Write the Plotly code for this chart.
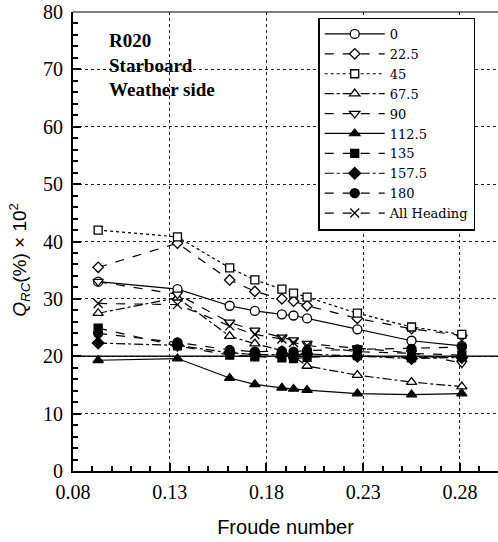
import plotly.graph_objects as go

froude = [0.093, 0.134, 0.161, 0.174, 0.188, 0.194, 0.201, 0.227, 0.255, 0.281]

headings = ["0", "22.5", "45", "67.5", "90", "112.5", "135", "157.5", "180", "All Heading"]

q_0 = [33.0, 31.7, 28.8, 27.9, 27.3, 27.1, 26.6, 24.7, 22.7, 21.8]
q_22 = [35.5, 39.7, 33.3, 31.3, 30.0, 29.6, 28.8, 26.6, 24.8, 23.6]
q_45 = [42.0, 40.8, 35.4, 33.3, 31.7, 31.0, 30.3, 27.5, 25.1, 23.8]
q_67 = [27.5, 30.2, 23.5, 22.2, 21.0, 20.0, 18.3, 16.7, 15.5, 14.7]
q_90 = [33.0, 30.8, 25.9, 24.5, 23.3, 22.8, 22.2, 21.4, 20.6, 18.8]
q_112 = [19.3, 19.6, 16.2, 15.1, 14.5, 14.3, 14.1, 13.5, 13.3, 13.5]
q_135 = [24.9, 21.8, 20.2, 19.9, 19.7, 19.6, 19.8, 20.1, 19.7, 20.0]
q_157 = [22.3, 21.9, 20.6, 20.3, 20.3, 20.2, 20.4, 20.0, 19.6, 19.8]
q_180 = [24.0, 22.4, 21.1, 20.8, 20.9, 20.8, 21.0, 21.2, 21.3, 21.6]
q_all = [29.2, 29.0, 25.3, 23.8, 23.0, 22.4, 21.9, 20.8, 20.5, 20.2]

x_ticks = [0.08, 0.13, 0.18, 0.23, 0.28]
y_ticks = [0, 10, 20, 30, 40, 50, 60, 70, 80]

label_text = "R020<br>Starboard<br>Weather side"

series = [q_0, q_22, q_45, q_67, q_90, q_112, q_135, q_157, q_180, q_all]
styles = [
    dict(symbol="circle", fill="white", size=9, dash="solid"),
    dict(symbol="diamond", fill="white", size=8, dash="dash"),
    dict(symbol="square", fill="white", size=8, dash="dot"),
    dict(symbol="triangle-up", fill="white", size=9, dash="dashdot"),
    dict(symbol="triangle-down", fill="white", size=9, dash="dash"),
    dict(symbol="triangle-up", fill="black", size=9, dash="solid"),
    dict(symbol="square", fill="black", size=8, dash="dash"),
    dict(symbol="diamond", fill="black", size=9, dash="dashdot"),
    dict(symbol="circle", fill="black", size=9, dash="dash"),
    dict(symbol="x-thin", fill="black", size=9, dash="dash"),
]

SERIF = "Liberation Serif, Times New Roman, serif"
SANS = "Liberation Sans, Arial, sans-serif"

fig = go.Figure()

for name, ys, st in zip(headings, series, styles):
    fig.add_trace(go.Scatter(
        x=froude, y=ys, name=name, mode="lines+markers",
        line=dict(color="black", width=1.2, dash=st["dash"]),
        marker=dict(symbol=st["symbol"], size=st["size"], color=st["fill"],
                    line=dict(color="black", width=1.3)),
    ))

fig.add_hline(y=20, line=dict(color="black", width=1.6), layer="below")

fig.add_annotation(
    x=0.0976, y=77.2, xref="x", yref="y", xanchor="left", yanchor="top",
    text=f"<b>{label_text}</b>", showarrow=False, align="left",
    font=dict(family=SERIF, size=19, color="black"),
)

# y-axis title placed like the reference
fig.add_annotation(
    x=-0.125, y=0.46, xref="paper", yref="paper", xanchor="center", yanchor="middle",
    text="<i>Q</i><sub><i>RC</i></sub>(%) × 10<sup>2</sup>", textangle=-90, showarrow=False,
    font=dict(family=SANS, size=19, color="black"),
)

fig.update_layout(
    width=498, height=542,
    margin=dict(l=73, r=0, t=12, b=71),
    plot_bgcolor="white", paper_bgcolor="white",
    font=dict(family=SERIF, color="black", size=18),
    showlegend=True,
    legend=dict(
        x=0.577, y=0.988, xanchor="left", yanchor="top",
        bgcolor="white", bordercolor="black", borderwidth=1.5,
        font=dict(family="DejaVu Serif, serif", size=13, color="black"),
        itemwidth=60, tracegroupgap=0, traceorder="normal",
    ),
    xaxis=dict(
        range=[0.08, 0.2997], tickvals=x_ticks, ticktext=[f"{v:.2f}" for v in x_ticks],
        showgrid=True, gridcolor="#222222", griddash="dot", gridwidth=1,
        showline=True, linecolor="black", linewidth=2, mirror=False,
        ticks="inside", ticklen=8, tickwidth=1.5, tickcolor="black",
        minor=dict(dtick=0.01, tick0=0.08, ticks="inside", ticklen=5, tickcolor="black", showgrid=False),
        zeroline=False, ticklabelstandoff=2,
        title=dict(text="Froude number", font=dict(family=SANS, size=20), standoff=18),
        tickfont=dict(family=SERIF, size=20),
    ),
    yaxis=dict(
        range=[0, 80], tickvals=y_ticks,
        showgrid=True, gridcolor="#222222", griddash="dot", gridwidth=1,
        showline=True, linecolor="black", linewidth=2, mirror=False,
        ticks="inside", ticklen=8, tickwidth=1.5, tickcolor="black",
        minor=dict(dtick=2, ticks="inside", ticklen=5, tickcolor="black", showgrid=False),
        zeroline=False, ticklabelstandoff=4,
        tickfont=dict(family=SERIF, size=20),
    ),
)

fig.add_shape(type="line", xref="paper", yref="paper", x0=0, x1=1, y0=1, y1=1,
              line=dict(color="black", width=1.2))

fig.write_html("out.html")
